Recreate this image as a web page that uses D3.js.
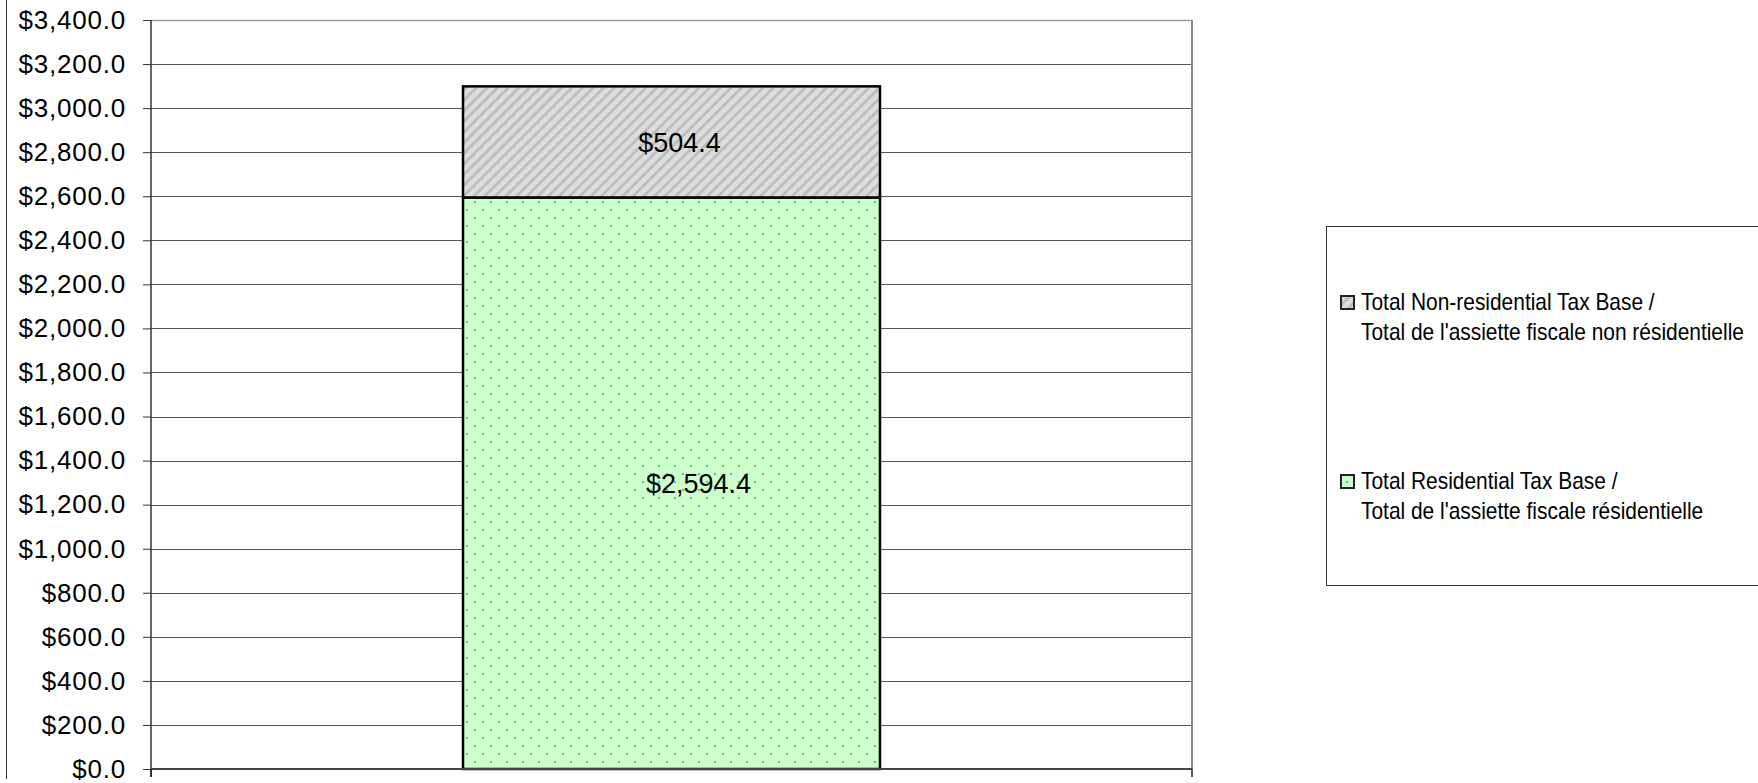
<!DOCTYPE html>
<html>
<head>
<meta charset="utf-8">
<script src="https://cdn.jsdelivr.net/npm/d3@7/dist/d3.min.js"></script>
<style>
  html, body { margin: 0; padding: 0; background: #fff; }
  svg { display: block; font-family: "Liberation Sans", Arial, sans-serif; }
</style>
</head>
<body>
<svg id="chart" width="1758" height="783"></svg>
<script>
// ---- data ----
const categories = ["Tax Base"];
const seriesNames = [
  ["Total Residential Tax Base /", "Total de l'assiette fiscale résidentielle"],
  ["Total Non-residential Tax Base /", "Total de l'assiette fiscale non résidentielle"]
];
const residentialValues = [2594.4];
const nonResidentialValues = [504.4];
const yTickValues = [0, 200, 400, 600, 800, 1000, 1200, 1400, 1600, 1800, 2000, 2200, 2400, 2600, 2800, 3000, 3200, 3400];

// ---- layout ----
const svg = d3.select("#chart");
const plot = { left: 151, right: 1192, top: 20, bottom: 769 };

const defs = svg.append("defs");
// dotted green pattern
const pDots = defs.append("pattern").attr("id", "dots").attr("patternUnits", "userSpaceOnUse")
  .attr("width", 16).attr("height", 16);
pDots.append("rect").attr("width", 16).attr("height", 16).attr("fill", "#ccffcc");
pDots.append("rect").attr("x", 2).attr("y", 1).attr("width", 2).attr("height", 2).attr("fill", "#5bbd84");
pDots.append("rect").attr("x", 10).attr("y", 9).attr("width", 2).attr("height", 2).attr("fill", "#5bbd84");
// diagonal gray stripes
const pStr = defs.append("pattern").attr("id", "stripes").attr("patternUnits", "userSpaceOnUse")
  .attr("width", 7.5).attr("height", 7.5).attr("patternTransform", "rotate(45)");
pStr.append("rect").attr("width", 7.5).attr("height", 7.5).attr("fill", "#dcdcdc");
pStr.append("rect").attr("x", 0).attr("y", 0).attr("width", 2.8).attr("height", 7.5).attr("fill", "#bdbdbd");

const x = d3.scaleBand().domain(categories).range([plot.left, plot.right]).padding(0.428);
const y = d3.scaleLinear().domain([0, 3400]).range([plot.bottom, plot.top]);
const fmt = d3.format("$,.1f");

// outer chart border (left side visible)
svg.append("line").attr("x1", 6.5).attr("x2", 6.5).attr("y1", 0).attr("y2", 779)
  .attr("stroke", "#333").attr("stroke-width", 1);

// gridlines
svg.append("g").selectAll("line").data(yTickValues.filter(d => d > 0)).join("line")
  .attr("x1", plot.left).attr("x2", plot.right)
  .attr("y1", d => Math.round(y(d)) + 0.5).attr("y2", d => Math.round(y(d)) + 0.5)
  .attr("stroke", d => d === 3400 ? "#9a9a9a" : "#555").attr("stroke-width", d => d === 3400 ? 1.6 : 1);

// right plot border
svg.append("line").attr("x1", plot.right).attr("x2", plot.right).attr("y1", plot.top).attr("y2", plot.bottom)
  .attr("stroke", "#888").attr("stroke-width", 2);

// stacked bars
const stackData = categories.map((c, i) => ({ cat: c, res: residentialValues[i], non: nonResidentialValues[i] }));
const stack = d3.stack().keys(["res", "non"])(stackData);
const fills = { res: "url(#dots)", non: "url(#stripes)" };
const labelDx = { res: 27, non: 8 };

stack.forEach(layer => {
  svg.append("g").selectAll("rect").data(layer).join("rect")
    .attr("x", d => x(d.data.cat)).attr("width", x.bandwidth())
    .attr("y", d => y(d[1])).attr("height", d => y(d[0]) - y(d[1]))
    .attr("fill", fills[layer.key]).attr("stroke", "#000").attr("stroke-width", 2.5);
});
stack.forEach(layer => {
  svg.append("g").selectAll("text").data(layer).join("text")
    .attr("x", d => x(d.data.cat) + x.bandwidth() / 2 + labelDx[layer.key])
    .attr("y", d => (y(d[0]) + y(d[1])) / 2)
    .attr("dy", "0.36em").attr("text-anchor", "middle")
    .attr("font-size", 27).attr("fill", "#000")
    .text(d => fmt(d[1] - d[0]));
});

// y axis
const yAxis = d3.axisLeft(y).tickValues(yTickValues).tickFormat(fmt).tickSize(8).tickPadding(17);
const gy = svg.append("g").attr("transform", `translate(${plot.left},0)`).call(yAxis);
gy.select(".domain").attr("stroke", "#333").attr("stroke-width", 1.5)
  .attr("d", `M0,${plot.top}V${plot.bottom + 8}`);
gy.selectAll(".tick line").attr("stroke", "#333");
gy.selectAll(".tick text").attr("font-size", 26).attr("fill", "#000")
  .attr("font-family", "Liberation Sans, Arial, sans-serif").attr("letter-spacing", "0.8px");

// x axis (category) line
const gx = svg.append("g").attr("transform", `translate(0,${plot.bottom})`);
gx.append("line").attr("x1", plot.left).attr("x2", plot.right).attr("y1", 0).attr("y2", 0)
  .attr("stroke", "#444").attr("stroke-width", 2);
gx.selectAll("line.tk").data([plot.left, plot.right]).join("line").attr("class", "tk")
  .attr("x1", d => d).attr("x2", d => d).attr("y1", 0).attr("y2", 8)
  .attr("stroke", "#222").attr("stroke-width", 1.5);

// legend
const lg = svg.append("g");
lg.append("rect").attr("x", 1326.5).attr("y", 226.5).attr("width", 460).attr("height", 359)
  .attr("fill", "#fff").attr("stroke", "#333").attr("stroke-width", 1);
const legendItems = [
  { name: seriesNames[1], fill: fills.non, y: 310 },
  { name: seriesNames[0], fill: fills.res, y: 489 }
];
legendItems.forEach(it => {
  lg.append("rect").attr("x", 1341).attr("y", it.y - 14).attr("width", 13).attr("height", 13)
    .attr("fill", it.fill).attr("stroke", "#222").attr("stroke-width", 2);
  it.name.forEach((line, j) => {
    lg.append("text")
      .attr("transform", `translate(1361,${it.y + j * 29.5}) scale(0.91,1)`)
      .attr("font-size", 23).attr("fill", "#000").text(line);
  });
});
</script>
</body>
</html>
